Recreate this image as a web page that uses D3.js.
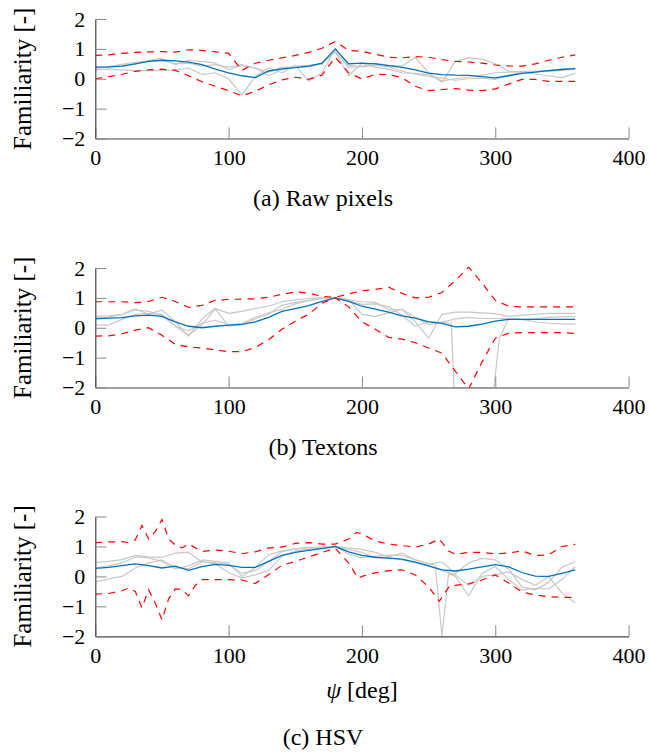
<!DOCTYPE html>
<html><head><meta charset="utf-8">
<script src="https://cdn.jsdelivr.net/npm/d3@7"></script>
<style>body{margin:0;background:#fff} text{font-family:"Liberation Serif","DejaVu Serif",serif;}</style>
</head><body><svg id="c" width="650" height="753"></svg>
<script>
// ---------- data ----------
const PSI = d3.range(0, 361, 10);
const X_TICKS = [0, 100, 200, 300, 400];
const Y_TICKS = [-2, -1, 0, 1, 2];
const Y_LABEL = "Familiarity [-]";
const CAPTIONS = ["(a) Raw pixels", "(b) Textons", "(c) HSV"];

// (a) Raw pixels
const A_MEAN  = [0.39,0.40,0.42,0.50,0.58,0.62,0.60,0.56,0.47,0.32, 0.20,0.10,0.04,0.26,0.33,0.37,0.42,0.52,1.00,0.50, 0.52,0.50,0.44,0.38,0.30,0.19,0.14,0.12,0.11,0.07, 0.03,0.10,0.18,0.22,0.27,0.31,0.34];
const A_UPPER = [0.78,0.80,0.85,0.88,0.90,0.91,0.89,0.97,0.95,0.90, 0.85,0.28,0.52,0.62,0.70,0.78,0.88,1.02,1.25,0.95, 0.92,0.82,0.72,0.70,0.74,0.72,0.64,0.58,0.56,0.52, 0.46,0.43,0.42,0.50,0.62,0.72,0.80];
const A_LOWER = [0.00,0.07,0.15,0.25,0.30,0.32,0.28,0.10,-0.10,-0.25, -0.40,-0.57,-0.42,-0.20,-0.04,0.05,-0.02,0.12,0.72,0.20, -0.01,0.15,0.14,0.04,-0.25,-0.40,-0.36,-0.33,-0.38,-0.40, -0.34,-0.18,-0.02,-0.02,-0.09,-0.09,-0.09];
const A_G1 = [0.39,0.40,0.42,0.50,0.62,0.68,0.48,0.62,0.58,0.52, 0.30,0.45,0.36,0.10,0.30,0.42,0.45,0.50,0.92,0.38, 0.42,0.52,0.45,0.42,0.72,0.20,-0.12,0.58,0.70,0.66, 0.50,0.26,0.22,0.16,0.10,0.03,0.19];
const A_G2 = [0.30,0.32,0.30,0.27,0.27,0.27,0.30,0.36,0.14,0.20, 0.00,-0.55,0.08,0.36,0.20,0.45,-0.08,0.20,1.00,0.45, 0.40,0.45,0.40,0.25,0.15,0.08,0.02,-0.05,0.00,0.02, -0.02,0.12,0.20,0.24,0.25,0.28,0.32];
const A_G3 = [0.35,0.40,0.48,0.55,0.58,0.62,0.50,0.52,0.42,0.47, 0.38,0.47,0.36,0.22,0.38,0.38,0.40,0.50,0.90,0.10, 0.52,0.38,0.32,0.20,0.18,0.14,-0.08,0.00,0.05,0.12, 0.20,0.22,0.24,0.26,0.28,0.32,0.36];

// (b) Textons
const B_MEAN  = [0.30,0.32,0.34,0.40,0.42,0.38,0.20,0.05,0.00,0.05, 0.09,0.11,0.20,0.35,0.55,0.64,0.74,0.88,1.00,0.88, 0.72,0.62,0.52,0.40,0.32,0.20,0.15,0.03,0.05,0.12, 0.22,0.28,0.28,0.28,0.28,0.28,0.28];
const B_UPPER = [0.87,0.87,0.87,0.84,0.88,1.02,0.88,0.68,0.75,0.92, 0.95,0.96,0.97,1.02,1.12,1.20,1.16,1.05,1.02,1.13, 1.24,1.28,1.36,1.15,1.00,1.02,1.18,1.58,2.03,1.50, 0.92,0.72,0.70,0.70,0.70,0.70,0.70];
const B_LOWER = [-0.28,-0.27,-0.20,-0.08,0.00,-0.25,-0.56,-0.64,-0.68,-0.74, -0.80,-0.80,-0.66,-0.40,-0.05,0.22,0.45,0.82,1.00,0.70, 0.20,-0.05,-0.32,-0.38,-0.50,-0.68,-0.85,-1.45,-2.05,-1.15, -0.35,-0.18,-0.16,-0.16,-0.16,-0.16,-0.19];
const B_G1 = [0.39,0.40,0.45,0.63,0.45,0.60,0.20,-0.28,0.30,0.65, 0.48,0.55,0.65,0.72,0.87,0.93,0.98,1.00,1.00,0.93, 0.87,0.85,0.60,0.62,0.20,-0.35,0.45,0.52,0.52,0.50, 0.47,0.38,0.42,0.45,0.48,0.48,0.48];
const B_G2_PSI = [0,10,20,30,40,50,60,70,80,90, 100,110,120,130,140,150,160,170,180,190, 200,210,220,230,240,250,260, 267,269,280,290,299,303, 310,320,330,340,350,360];
const B_G2 = [0.34,0.36,0.45,0.60,0.55,0.40,0.05,-0.25,0.10,0.63, 0.05,0.10,0.30,0.45,0.75,0.85,0.92,0.98,1.00,0.95, 0.45,0.37,0.50,0.62,0.35,0.10,0.18, 0.15,-2.00,-2.00,-2.00,-2.00,-0.36, 0.30,0.28,0.20,0.15,0.13,0.12];
const B_G3 = [0.09,0.09,0.28,0.45,0.48,0.45,0.05,-0.10,0.15,0.25, 0.10,0.15,0.35,0.50,0.62,0.80,0.90,0.98,1.00,0.90, 0.78,0.80,0.70,0.42,0.05,0.20,0.18,0.30,0.35,0.31, 0.31,0.30,0.27,0.30,0.35,0.37,0.37];

// (c) HSV
const C_MEAN  = [0.27,0.30,0.36,0.42,0.36,0.28,0.34,0.20,0.33,0.40, 0.37,0.30,0.30,0.50,0.70,0.80,0.87,0.93,1.00,0.82, 0.70,0.64,0.61,0.58,0.48,0.35,0.22,0.18,0.24,0.32, 0.39,0.32,0.13,0.01,0.00,0.10,0.22];
const C_UPPER_PSI = [0,10,20,25,30,35,40,45,50,55, 60,65,70,80,90,100,110,120,130,140, 150,160,170,180,190,196,200,210,220,230, 240,250,258,265,270,280,290,300,310,320, 330,340,350,360];
const C_UPPER = [1.13,1.15,1.16,1.13,1.22,1.70,1.25,1.50,1.90,1.25, 1.05,0.95,1.08,0.83,0.88,0.84,0.76,0.82,0.95,0.98, 1.10,1.13,1.08,1.08,1.25,1.47,1.42,1.18,1.08,1.03, 0.98,1.08,1.25,0.85,0.74,0.80,0.80,0.75,0.78,0.85, 0.70,0.72,1.00,1.07];
const C_LOWER_PSI = [0,10,20,25,30,35,40,45,50,55, 60,65,70,75,80,90,100,110,120,130, 140,150,160,170,180,190,197,200,210,220, 230,240,250,258,266,270,280,290,300,310, 320,330,340,350,360];
const C_LOWER = [-0.59,-0.57,-0.48,-0.39,-0.50,-1.05,-0.45,-0.90,-1.45,-0.75, -0.42,-0.44,-0.65,-0.30,-0.11,-0.11,-0.11,-0.12,-0.24,0.06, 0.37,0.50,0.65,0.80,0.94,0.45,-0.06,0.00,0.12,0.19, 0.22,0.05,-0.35,-0.83,-0.30,-0.30,-0.25,-0.12,0.05,-0.22, -0.52,-0.62,-0.68,-0.70,-0.70];
const C_G1 = [0.47,0.50,0.56,0.70,0.65,0.63,0.78,0.80,0.48,0.45, 0.40,0.10,0.20,0.50,0.83,0.92,0.97,0.98,1.00,0.95, 0.90,0.80,0.65,0.78,0.55,0.42,0.48,0.10,0.45,0.60, 0.55,0.25,-0.35,-0.45,-0.20,0.30,0.50];
const C_G2_PSI = [0,10,20,30,40,50,60,70,80,90, 100,110,120,130,140,150,160,170,180,190, 200,210,220,230,240,250, 255,260,265, 270,280,290,300,310,320,330,340,350,360];
const C_G2 = [0.28,0.35,0.45,0.65,0.62,0.50,0.25,0.35,0.55,0.50, 0.45,0.00,0.30,0.72,0.85,0.92,0.95,0.98,1.00,0.75, 0.62,0.68,0.70,0.70,0.55,0.42, 0.38,-2.00,0.10, 0.00,-0.65,0.10,0.33,-0.10,-0.45,-0.40,-0.42,-0.10,0.33];
const C_G3 = [-0.19,-0.08,0.00,0.28,0.45,0.55,0.30,0.25,0.50,0.42, 0.12,-0.05,0.05,0.20,0.67,0.85,0.90,0.95,0.98,0.90, 0.80,0.62,0.62,0.55,0.45,0.35,0.20,0.05,-0.30,0.00, 0.06,0.15,-0.10,-0.30,0.00,-0.55,-0.89];

// ---------- drawing ----------
const svg = d3.select("#c");
const FONT = '"Liberation Serif", "DejaVu Serif", serif';
const x = d3.scaleLinear().domain([0, 400]).range([95.3, 628.6]);
const fmt = d3.format("d");

const pts = (psi, v) => psi.map((p, i) => [p, v[i]]);

const panels = [
  {top: 19, bottom: 138.5, capY: 198,
   greys: [pts(PSI, A_G1), pts(PSI, A_G2), pts(PSI, A_G3)],
   mean: pts(PSI, A_MEAN), upper: pts(PSI, A_UPPER), lower: pts(PSI, A_LOWER)},
  {top: 268, bottom: 387.5, capY: 447,
   greys: [pts(PSI, B_G1), pts(B_G2_PSI, B_G2), pts(PSI, B_G3)],
   mean: pts(PSI, B_MEAN), upper: pts(PSI, B_UPPER), lower: pts(PSI, B_LOWER)},
  {top: 516.5, bottom: 636.3, capY: 737,
   greys: [pts(PSI, C_G1), pts(C_G2_PSI, C_G2), pts(PSI, C_G3)],
   mean: pts(PSI, C_MEAN), upper: pts(C_UPPER_PSI, C_UPPER), lower: pts(C_LOWER_PSI, C_LOWER)}
];

panels.forEach((P, k) => {
  const y = d3.scaleLinear().domain([-2, 2]).range([P.bottom, P.top]);
  const g = svg.append("g");
  const clipId = "clip" + k;
  svg.append("clipPath").attr("id", clipId).append("rect")
    .attr("x", x(0)).attr("y", y(2) - 1).attr("width", x(400) - x(0)).attr("height", y(-2) - y(2) + 1);
  const line = d3.line().x(d => x(d[0])).y(d => y(d[1]));
  const data = g.append("g").attr("clip-path", `url(#${clipId})`);
  P.greys.forEach(s => data.append("path").attr("d", line(s))
    .attr("fill", "none").attr("stroke", "#c8c8c8").attr("stroke-width", 1.2).attr("stroke-linejoin", "round"));
  data.append("path").attr("d", line(P.mean)).attr("fill", "none")
    .attr("stroke", "#0072bd").attr("stroke-width", 1.3);
  [P.upper, P.lower].forEach(s => data.append("path").attr("d", line(s))
    .attr("fill", "none").attr("stroke", "#ff0000").attr("stroke-width", 1.2)
    .attr("stroke-dasharray", "7,6"));

  // axes
  const ax = g.append("g").attr("transform", `translate(0,${P.bottom})`)
    .call(d3.axisBottom(x).tickValues(X_TICKS).tickFormat(fmt).tickSize(-11).tickSizeOuter(0).tickPadding(11));
  const ay = g.append("g").attr("transform", `translate(${x(0)},0)`)
    .call(d3.axisLeft(y).tickValues(Y_TICKS).tickFormat(fmt).tickSize(-11).tickSizeOuter(0).tickPadding(10));
  [ax, ay].forEach(a => {
    a.attr("font-family", null).attr("font-size", null);
    a.select(".domain").attr("stroke", "#444").attr("stroke-width", 1.2);
    a.selectAll(".tick line").attr("stroke", "#888").attr("stroke-width", 1);
    a.selectAll(".tick text").attr("fill", "#000")
      .style("font-family", FONT).style("font-size", "22px");
  });

  g.append("text").attr("transform", `translate(22,${(P.top + P.bottom) / 2}) rotate(-90)`)
    .attr("text-anchor", "middle").attr("dy", "0.35em")
    .style("font-family", FONT).style("font-size", "25px").text(Y_LABEL);

  g.append("text").attr("x", 323).attr("y", P.capY).attr("dy", "0.35em")
    .attr("text-anchor", "middle").style("font-family", FONT).style("font-size", "24px")
    .text(CAPTIONS[k]);
});

// x label of bottom panel
const xl = svg.append("text").attr("x", x(200)).attr("y", 690).attr("dy", "0.35em")
  .attr("text-anchor", "middle").style("font-family", FONT).style("font-size", "24px");
xl.append("tspan").attr("font-style", "italic").text("ψ");
xl.append("tspan").text(" [deg]");
</script></body></html>
